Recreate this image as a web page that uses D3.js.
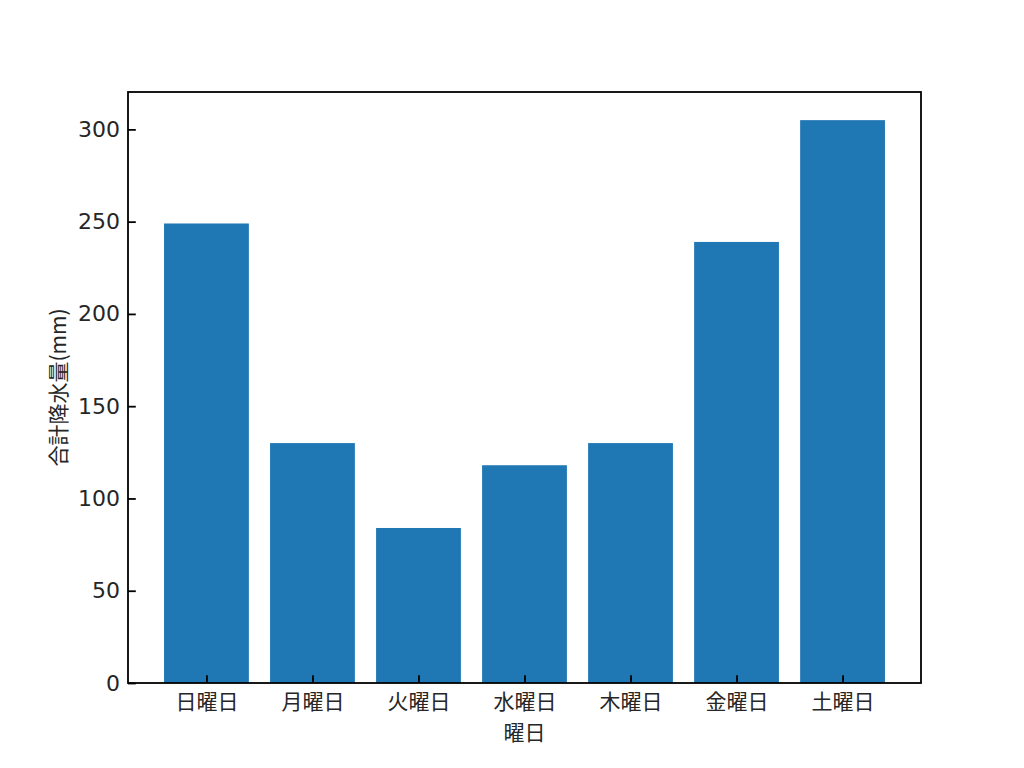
<!DOCTYPE html>
<html><head><meta charset="utf-8">
<script src="https://cdn.jsdelivr.net/npm/d3@7"></script>
<style>body{margin:0;background:#fff}svg{display:block}</style>
</head><body>
<svg id="c" width="1024" height="768"></svg>
<script>
const categories = ["日曜日","月曜日","火曜日","水曜日","木曜日","金曜日","土曜日"];
const values = [249, 130, 84, 118, 130, 239, 305];
const yTicks = [0, 50, 100, 150, 200, 250, 300];
const xLabel = "曜日";
const yLabel = "合計降水量(mm)";

const font = "'Noto Sans CJK JP', 'Noto Sans', sans-serif";
const numFont = "'DejaVu Sans', sans-serif";
const svg = d3.select("#c");
const L = 128, R = 921, T = 92, B = 683;
const x = d3.scaleLinear().domain([-0.74, 6.74]).range([L, R]);
const y = d3.scaleLinear().domain([0, 320.25]).range([B, T]);

svg.selectAll("rect.bar").data(values).join("rect")
  .attr("class","bar")
  .attr("x",(d,i)=>x(i-0.4)).attr("width",(d,i)=>x(i+0.4)-x(i-0.4))
  .attr("y",d=>y(d)).attr("height",d=>y(0)-y(d))
  .attr("fill","#1f77b4");

const ya = svg.append("g").attr("transform",`translate(${L},0)`)
  .call(d3.axisLeft(y).tickValues(yTicks).tickSize(-7.8).tickPadding(8).tickSizeOuter(0));
const xa = svg.append("g").attr("transform",`translate(0,${B})`)
  .call(d3.axisBottom(x).tickValues(d3.range(categories.length)).tickFormat(i=>categories[i]).tickSize(-7.8).tickPadding(0).tickSizeOuter(0));
[ya,xa].forEach(a=>{
  a.select(".domain").remove();
  a.selectAll(".tick line").attr("stroke","#000").attr("stroke-width",1.8);
  a.selectAll(".tick text").attr("fill","#262626");
});
ya.selectAll(".tick text").style("font-family",numFont).style("font-size","22px");
xa.selectAll(".tick text").style("font-family",font).style("font-size","21px").attr("y",0).attr("dy","0").attr("dominant-baseline","central").attr("transform","translate(0,17)");

svg.append("rect").attr("x",L).attr("y",T).attr("width",R-L).attr("height",B-T)
  .attr("fill","none").attr("stroke","#000").attr("stroke-width",1.8);

svg.append("text").attr("x",(L+R)/2).attr("y",731).attr("text-anchor","middle").attr("dominant-baseline","central")
  .style("font-family",font).style("font-size","21px").attr("fill","#262626").text(xLabel);
svg.append("text").attr("transform",`translate(57,${(T+B)/2}) rotate(-90)`).attr("text-anchor","middle").attr("dominant-baseline","central")
  .style("font-family",font).style("font-size","21px").attr("fill","#262626").text(yLabel);
</script>
</body></html>
